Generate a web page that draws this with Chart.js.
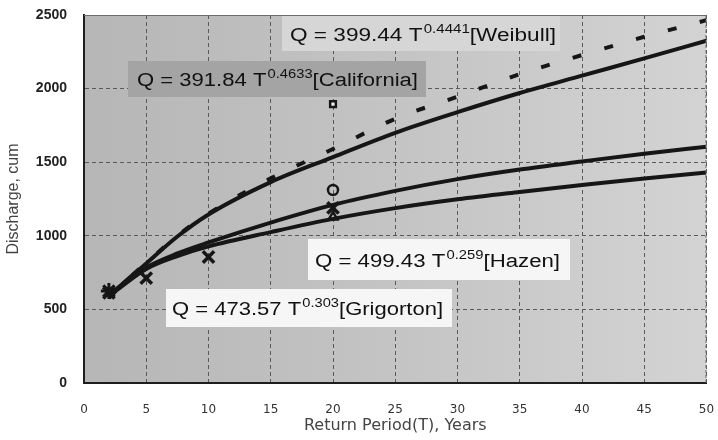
<!DOCTYPE html>
<html>
<head>
<meta charset="utf-8">
<script src="https://cdn.jsdelivr.net/npm/chart.js@4/dist/chart.umd.min.js"></script>
<style>
html,body{margin:0;padding:0;background:#fff;}
#wrap{width:718px;height:440px;position:relative;}
</style>
</head>
<body>
<div id="wrap"><canvas id="c" width="718" height="440"></canvas></div>
<script>
// Return periods (years) at which the fitted curves were read
const returnPeriods = [2, 3, 5, 7.5, 10, 15, 20, 25, 30, 35, 40, 45, 50];
// Fitted curves (discharge, cum)
const dashedCurveQ = [578, 665, 815, 1000, 1150, 1390, 1590, 1795, 1945, 2098, 2228, 2352, 2465];
const solidCurveQ  = [578, 665, 812, 995, 1145, 1365, 1535, 1700, 1840, 1970, 2088, 2205, 2325];
const midCurveQ    = [595, 665, 785, 880, 955, 1090, 1210, 1305, 1385, 1450, 1505, 1558, 1605];
const lowCurveQ    = [590, 655, 775, 862, 928, 1025, 1115, 1188, 1248, 1298, 1345, 1390, 1430];
// Observed points
const crossT = [2, 5, 10, 20];
const crossQ = [612, 713, 856, 1190];
const starT = [2];
const starQ = [625];
const squareT = [20];
const squareQ = [1895];
const circleT = [20];
const circleQ = [1311];
const triangleT = [20];
const triangleQ = [1128];
// Axis ticks
const xTicks = [0, 5, 10, 15, 20, 25, 30, 35, 40, 45, 50];
const yTicks = [0, 500, 1000, 1500, 2000, 2500];
// Equation label texts
const eqMain = ['Q = 399.44 T', 'Q = 391.84 T', 'Q = 499.43 T', 'Q = 473.57 T'];
const eqSup  = ['0.4441', '0.4633', '0.259', '0.303'];
const eqTail = ['[Weibull]', '[California]', '[Hazen]', '[Grigorton]'];

// Label layout (pixels): text left, text right, text middle y, box rect, box colour
const labelLayout = [
  {x0: 290, x1: 556, ym: 34, bx: 282, by: 16, bw: 278, bh: 35, c: '#d6d6d6'},
  {x0: 137, x1: 418, ym: 79, bx: 128, by: 61, bw: 298, bh: 36, c: '#a4a4a4'},
  {x0: 315, x1: 560, ym: 260, bx: 308, by: 239, bw: 262, bh: 41, c: '#f6f6f6'},
  {x0: 172, x1: 443, ym: 308, bx: 166, by: 289, bw: 286, bh: 38, c: '#f6f6f6'}
];

const pts = (xs, ys) => xs.map((x, i) => ({x: x, y: ys[i]}));
const lineColor = '#161616';
const FONT = '"Liberation Sans", Arial, sans-serif';

const bgPlugin = {
  id: 'bg',
  beforeDraw(chart) {
    const {ctx, chartArea: a} = chart;
    ctx.save();
    ctx.fillStyle = '#ffffff';
    ctx.fillRect(0, 0, chart.width, chart.height);
    const g = ctx.createLinearGradient(a.left, 0, a.right, 0);
    g.addColorStop(0, '#b6b6b6');
    g.addColorStop(0.5, '#c4c4c4');
    g.addColorStop(1, '#d3d3d3');
    ctx.fillStyle = g;
    ctx.fillRect(a.left, a.top, a.right - a.left, a.bottom - a.top);
    ctx.restore();
  },
  afterDraw(chart) {
    const {ctx, chartArea: a} = chart;
    ctx.save();
    ctx.strokeStyle = '#6a6a6a';
    ctx.lineWidth = 1;
    ctx.beginPath();
    ctx.moveTo(a.left, a.top + 0.5);
    ctx.lineTo(a.right, a.top + 0.5);
    ctx.stroke();
    ctx.setLineDash([3, 2]);
    ctx.beginPath();
    ctx.moveTo(a.right - 0.5, a.top);
    ctx.lineTo(a.right - 0.5, a.bottom);
    ctx.stroke();
    ctx.setLineDash([]);
    ctx.restore();
  }
};

const labelPlugin = {
  id: 'eqLabels',
  afterDraw(chart) {
    const ctx = chart.ctx;
    labelLayout.forEach((L, i) => {
      ctx.save();
      ctx.fillStyle = L.c;
      ctx.fillRect(L.bx, L.by, L.bw, L.bh);
      ctx.font = '18px ' + FONT;
      const w1 = ctx.measureText(eqMain[i]).width;
      const w3 = ctx.measureText(eqTail[i]).width;
      ctx.font = '12px ' + FONT;
      const w2 = ctx.measureText(eqSup[i]).width;
      const total = w1 + w2 + w3 + 1;
      const sx = (L.x1 - L.x0) / total;
      const yb = L.ym + 6.5;
      ctx.translate(L.x0, 0);
      ctx.scale(sx, 1);
      ctx.fillStyle = '#111';
      ctx.textBaseline = 'alphabetic';
      ctx.textAlign = 'left';
      ctx.font = '18px ' + FONT;
      ctx.fillText(eqMain[i], 0, yb);
      ctx.font = '12px ' + FONT;
      ctx.fillText(eqSup[i], w1 + 1, yb - 8);
      ctx.font = '18px ' + FONT;
      ctx.fillText(eqTail[i], w1 + w2 + 1, yb);
      ctx.restore();
    });
  }
};

const curveDs = (data, dash) => ({
  data: data, showLine: true, borderColor: lineColor, borderWidth: 4,
  borderDash: dash || [], pointRadius: 0, cubicInterpolationMode: 'monotone', fill: false
});
const markDs = (data, style, r, bw, fillC) => ({
  data: data, showLine: false, pointStyle: style, pointRadius: r,
  borderColor: lineColor, backgroundColor: fillC || 'rgba(0,0,0,0)', pointBorderWidth: bw
});

new Chart(document.getElementById('c'), {
  type: 'scatter',
  data: {
    datasets: [
      curveDs(pts(returnPeriods, lowCurveQ)),
      curveDs(pts(returnPeriods, midCurveQ)),
      curveDs(pts(returnPeriods, solidCurveQ)),
      curveDs(pts(returnPeriods, dashedCurveQ), [9, 24]),
      markDs(pts(crossT, crossQ), 'crossRot', 8, 3.5),
      markDs(pts(starT, starQ), 'star', 8, 3),
      markDs(pts(squareT, squareQ), 'rect', 4, 2.5, '#f2f2f2'),
      markDs(pts(circleT, circleQ), 'circle', 5, 2.5),
      markDs(pts(triangleT, triangleQ), 'triangle', 5, 2.5)
    ]
  },
  options: {
    responsive: false,
    animation: false,
    events: [],
    layout: {padding: {left: 0, right: 0, top: 15, bottom: 0}},
    plugins: {legend: {display: false}, tooltip: {enabled: false}},
    scales: {
      x: {
        type: 'linear', min: 0, max: 50,
        afterBuildTicks: s => { s.ticks = xTicks.map(v => ({value: v})); },
        afterFit: s => { s.height = 57; },
        grid: {color: '#5a5a5a', lineWidth: 1, drawTicks: true, tickLength: 17, tickColor: 'rgba(0,0,0,0)'},
        border: {display: true, color: '#1e1e1e', width: 2, dash: [4, 3]},
        ticks: {color: '#333', padding: 3, callback: v => String(v),
                font: {family: '"DejaVu Sans", sans-serif', size: 12}},
        title: {display: true, text: 'Return Period(T), Years', color: '#444', padding: {top: 0, bottom: 5},
                font: {family: '"DejaVu Sans", sans-serif', size: 16}}
      },
      y: {
        type: 'linear', min: 0, max: 2500,
        afterBuildTicks: s => { s.ticks = yTicks.map(v => ({value: v})); },
        afterFit: s => { s.width = 84; },
        grid: {color: '#5a5a5a', lineWidth: 1, drawTicks: true, tickLength: 14, tickColor: 'rgba(0,0,0,0)'},
        border: {display: true, color: '#1e1e1e', width: 2, dash: [4, 3]},
        ticks: {color: '#222', padding: 3, callback: v => String(v),
                font: {family: FONT, size: 14, weight: 'bold'}},
        title: {display: true, text: 'Discharge, cum', color: '#444', padding: {top: 4, bottom: 4},
                font: {family: FONT, size: 16}}
      }
    }
  },
  plugins: [bgPlugin, labelPlugin]
});
</script>
</body>
</html>
